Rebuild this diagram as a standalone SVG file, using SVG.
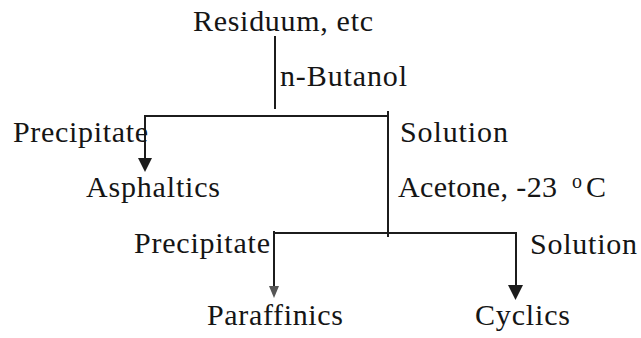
<svg xmlns="http://www.w3.org/2000/svg" width="641" height="338" viewBox="0 0 641 338" font-family="'Liberation Serif', 'Times New Roman', Times, serif">
<style>
text{font-family:'Liberation Serif','Times New Roman',Times,serif;font-size:30px;fill:#151515}
.ln{stroke:#1c1c1c;stroke-width:2;fill:none}
.ah{fill:#1c1c1c}
</style>
<rect width="641" height="338" fill="#ffffff"/>
<g id="connectors">
<path class="ln" d="M275 36V109"/>
<path class="ln" d="M144 116H389"/>
<path class="ln" d="M145 116V160"/>
<polygon class="ah" points="138,158 152,158 145,172"/>
<path class="ln" d="M388 111V237"/>
<path class="ln" d="M273 233H516"/>
<path class="ln" d="M274 231V288"/>
<polygon points="269,286 279,286 274,298" fill="#555"/>
<path class="ln" d="M516 232V287"/>
<polygon class="ah" points="508,285 523,285 515.5,300"/>
</g>
<g id="residuum"><text x="193" y="31" textLength="180" lengthAdjust="spacing">Residuum, etc</text></g>
<g id="butanol"><text x="280" y="86" textLength="127" lengthAdjust="spacing">n-Butanol</text></g>
<g id="precipitate1"><text x="13" y="142" textLength="135" lengthAdjust="spacing">Precipitate</text></g>
<g id="solution1"><text x="400" y="142" textLength="108" lengthAdjust="spacing">Solution</text></g>
<g id="asphaltics"><text x="86" y="197" textLength="134" lengthAdjust="spacing">Asphaltics</text></g>
<g id="acetone"><text x="398" y="197" textLength="159" lengthAdjust="spacing">Acetone, -23</text><text x="572" y="188" style="font-size:20px">o</text><text x="586" y="197">C</text></g>
<g id="precipitate2"><text x="134" y="253" textLength="136" lengthAdjust="spacing">Precipitate</text></g>
<g id="solution2"><text x="530" y="254" textLength="107" lengthAdjust="spacing">Solution</text></g>
<g id="paraffinics"><text x="207" y="325" textLength="136" lengthAdjust="spacing">Paraffinics</text></g>
<g id="cyclics"><text x="475" y="325" textLength="95" lengthAdjust="spacing">Cyclics</text></g>
</svg>
